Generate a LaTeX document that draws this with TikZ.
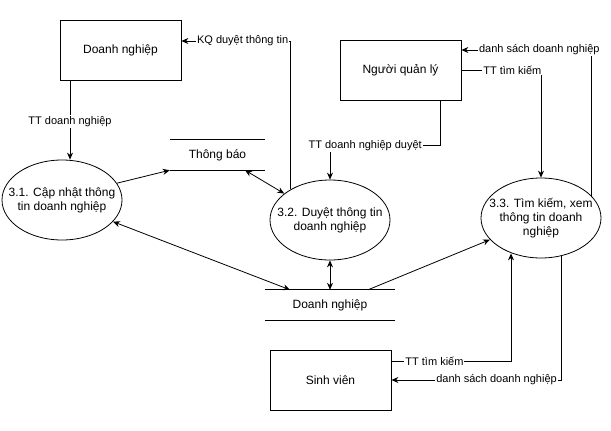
\documentclass[tikz,border=0pt]{standalone}
\usepackage{fontspec}
\setmainfont{Liberation Sans}
\usetikzlibrary{arrows.meta,shapes.geometric}
\begin{document}
\begin{tikzpicture}[x=1pt,y=-1pt,>={Stealth[length=7pt,width=6pt]},
  entity/.style={rectangle,draw,thick,minimum width=121pt,minimum height=60pt,inner sep=0pt,font=\fontsize{12}{14}\selectfont},
  process/.style={ellipse,draw,thick,minimum width=120pt,minimum height=80pt,inner xsep=-16pt,inner ysep=-2pt,align=center,font=\fontsize{12}{14}\selectfont},
  store/.style={minimum height=30pt,inner sep=0pt,font=\fontsize{12}{14}\selectfont},
  flow/.style={fill=white,inner sep=1pt,font=\fontsize{11}{13}\selectfont}]
  \useasboundingbox (0,0) rectangle (611,431);
  \path (120.5,50)  node[entity] (dn) {Doanh nghiệp}
        (400.5,70)  node[entity] (ql) {Người quản lý}
        (330.5,380) node[entity] (sv) {Sinh viên}
        (62,200)    node[process] (p1) {3.1. Cập nhật thông\\tin doanh nghiệp}
        (330,220)   node[process] (p2) {3.2. Duyệt thông tin\\doanh nghiệp}
        (541,218)   node[process] (p3) {3.3. Tìm kiếm, xem\\thông tin doanh\\nghiệp}
        (217.5,155) node[store,minimum width=95pt] (tb) {Thông báo}
        (330,305)   node[store,minimum width=130pt] (ds) {Doanh nghiệp};

  \draw[thick] (tb.north west) -- (tb.north east) (tb.south west) -- (tb.south east);
  \draw[thick] (ds.north west) -- (ds.north east) (ds.south west) -- (ds.south east);

  \path[->, thick]
        ([xshift=-50.5pt]dn.south) edge node[flow,pos=0.52] {TT doanh nghiệp} ([xshift=8pt]p1.north)
        (p1.17) edge (tb.south west)
        ([xshift=27.5pt]tb.south) edge[<->] (p2.150)
        (p1.-23) edge[<->] ([xshift=-40pt]ds.north)
        (p2.south) edge[<->] (ds.north)
        ([xshift=38pt]ds.north) edge (p3.203);

  \draw[->, thick] (p2.142) |- node[flow,pos=0.72] {KQ duyệt thông tin} ([yshift=9pt]dn.east);
  \draw[->, thick] ([xshift=39.5pt]ql.south) -- ++(0,45) -| node[flow,pos=0.34] {TT doanh nghiệp duyệt} (p2.north);
  \draw[->, thick] (p3.24) |- node[flow,pos=0.7] {danh sách doanh nghiệp} ([yshift=20pt]ql.east);
  \draw[->, thick] (ql.east) -| node[flow,pos=0.32] {TT tìm kiếm} (p3.north);
  \draw[->, thick] ([yshift=19pt]sv.east) -| node[flow,pos=0.18] {TT tìm kiếm} ([xshift=-30pt,yshift=5pt]p3.south);
  \draw[->, thick] ([xshift=20pt,yshift=2.3pt]p3.south) |- node[flow,pos=0.69] {danh sách doanh nghiệp} (sv.east);
\end{tikzpicture}
\end{document}
